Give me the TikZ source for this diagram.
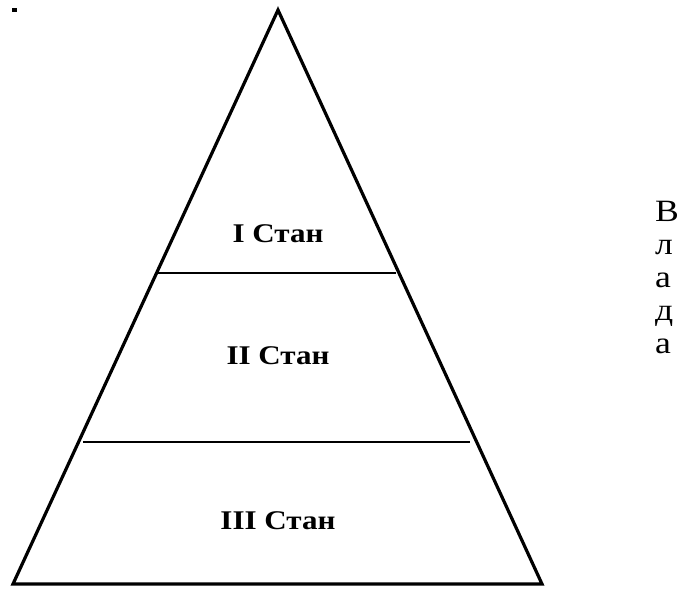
\documentclass[tikz,border=0pt]{standalone}
\usepackage{fontspec}
\setmainfont{Liberation Serif}[FakeStretch=1.15]
\usetikzlibrary{positioning}
\tikzstyle{edge}=[
	-,
	draw=black,
	line width=3.2pt,
	line join=miter
]
\tikzstyle{divider}=[
	-,
	draw=black,
	line width=1.5pt
]
\tikzstyle{stan}=[
	font=\fontsize{27}{30}\selectfont\bfseries,
	inner sep=0pt
]
\tikzstyle{letters}=[
	font=\fontsize{31}{33}\selectfont,
	align=left,
	inner sep=0pt
]
\begin{document}
\begin{tikzpicture}[x=1pt,y=-1pt]
\useasboundingbox (0,0) rectangle (684,590);
\fill[black] (12,8) rectangle (17,12);

\coordinate (top) at (278,10);
\coordinate (left) at (13,584);
\coordinate (right) at (542,584);
\coordinate (a1) at (158,273);
\coordinate (b1) at (396,273);
\coordinate (a2) at (83,442);
\coordinate (b2) at (470,442);

\draw[edge] (top) -- (left) -- (right) -- cycle;
\draw[divider] (a1) -- (b1);
\draw[divider] (a2) -- (b2);

\node[stan] (s1) at (278,234) {I Стан};
\node[stan] (s2) at (278,356) {II Стан};
\node[stan] (s3) at (278,521) {III Стан};

\node[letters, anchor=west] (vlada) at (655,277) {В\\л\\а\\д\\а};
\end{tikzpicture}
\end{document}
